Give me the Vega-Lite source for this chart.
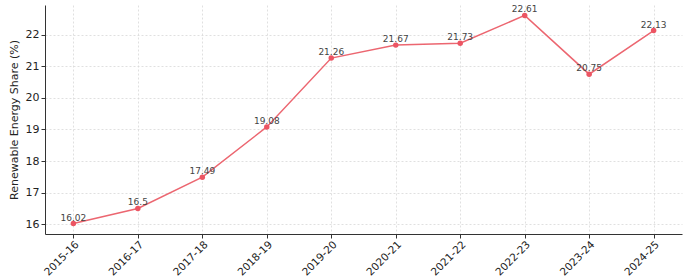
{
  "$schema": "https://vega.github.io/schema/vega-lite/v6.json",
  "width": 637,
  "height": 229,
  "autosize": {"type": "none"},
  "padding": {"left": 45, "top": 5, "right": 13, "bottom": 46},
  "background": "white",
  "config": {
    "font": "DejaVu Sans",
    "view": {"stroke": null}
  },
  "data": {
    "values": [
      {"year": "2015-16", "share": 16.02},
      {"year": "2016-17", "share": 16.5},
      {"year": "2017-18", "share": 17.49},
      {"year": "2018-19", "share": 19.08},
      {"year": "2019-20", "share": 21.26},
      {"year": "2020-21", "share": 21.67},
      {"year": "2021-22", "share": 21.73},
      {"year": "2022-23", "share": 22.61},
      {"year": "2023-24", "share": 20.75},
      {"year": "2024-25", "share": 22.13}
    ]
  },
  "encoding": {
    "x": {
      "field": "year", "type": "ordinal", "sort": null,
      "scale": {"type": "point", "padding": 0.44},
      "axis": {
        "title": null, "labelAngle": -45, "labelAlign": "right", "labelBaseline": "top",
        "labelFontSize": 10.5, "labelColor": "#222", "labelPadding": 1,
        "tickColor": "#333", "tickSize": 4, "domainColor": "#333", "domainWidth": 1,
        "grid": true, "gridColor": "#d8d8d8", "gridDash": [2, 2], "gridWidth": 0.8
      }
    },
    "y": {
      "field": "share", "type": "quantitative",
      "scale": {"domain": [15.69, 22.94], "nice": false, "zero": false},
      "axis": {
        "title": "Renewable Energy Share (%)", "titleFontSize": 11, "titleFontWeight": "normal",
        "titleColor": "#222", "titlePadding": 6,
        "values": [16, 17, 18, 19, 20, 21, 22], "labelFontSize": 11, "labelColor": "#222",
        "tickColor": "#333", "tickSize": 4, "domainColor": "#333", "domainWidth": 1,
        "grid": true, "gridColor": "#d8d8d8", "gridDash": [2, 2], "gridWidth": 0.8
      }
    }
  },
  "layer": [
    {"mark": {"type": "line", "color": "#ec6670", "strokeWidth": 1.5}},
    {"mark": {"type": "point", "filled": true, "color": "#ec5563", "size": 30, "opacity": 1}},
    {
      "mark": {"type": "text", "baseline": "bottom", "dy": -1, "fontSize": 9, "color": "#444"},
      "encoding": {"text": {"field": "share", "type": "quantitative"}}
    }
  ]
}
